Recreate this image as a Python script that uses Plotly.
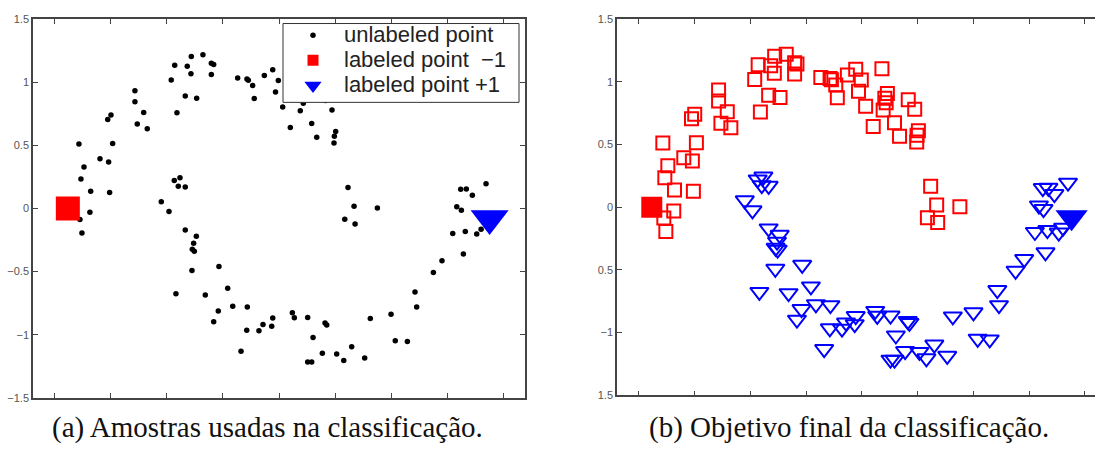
import plotly.graph_objects as go

# Two-moons sample: coordinates of every point and its final class
moon_neg_x = [-1.286, -1.268, -1.241, -1.181, -1.188, -1.277, -1.259, -1.098, -1.021, -1.012,
              -1.029, -1.000, -0.985, -0.786, -0.786, -0.765, -0.708, -0.676, -0.462, -0.431,
              -0.411, -0.337, -0.319, -0.283, -0.286, -0.235, -0.179, -0.104, -0.083, -0.104,
              0.131, 0.214, 0.226, 0.265, 0.279, 0.369, 0.444, 0.469, 0.494, 0.533,
              0.690, 0.717, 0.973, 0.601, 0.792, 0.837, 1.006, 0.994, 0.991, 1.116,
              1.170, 1.378, 1.087, 1.179, 0.679, 0.728, 0.705, 0.915]
moon_neg_y = [0.511, 0.234, 0.329, 0.137, -0.031, -0.087, -0.195, 0.393, 0.368, 0.126,
              0.704, 0.740, 0.514, 0.933, 0.846, 0.669, 0.761, 0.632, 1.018, 1.134,
              0.758, 0.892, 1.126, 1.203, 1.067, 0.874, 1.218, 1.151, 1.141, 1.062,
              1.033, 1.026, 1.016, 0.974, 0.871, 1.054, 1.099, 0.923, 1.014, 0.804,
              0.774, 0.833, 0.781, 0.642, 0.673, 0.565, 0.609, 0.573, 0.519, 0.167,
              0.017, 0.004, -0.085, -0.123, 1.103, 0.906, 0.868, 0.856]

moon_pos_x = [-0.435, -0.384, -0.399, -0.337, -0.551, -0.482, -0.337, -0.238, -0.262, -0.274,
              -0.256, -0.277, -0.036, -0.420, -0.158, 0.042, -0.042, 0.087, 0.217, -0.083,
              0.212, 0.321, 0.357, 0.435, 0.444, 0.161, 0.619, 0.637, 0.756, 0.804,
              0.911, 0.926, 1.149, 0.887, 1.015, 1.078, 1.265, 0.756, 0.792, 1.315,
              1.500, 1.538, 1.646, 1.714, 1.729, 1.878, 1.955, 2.146, 2.051, 2.163,
              2.265, 2.304, 2.087, 2.128, 2.122, 2.172, 2.226, 2.348]
moon_pos_y = [0.221, 0.244, 0.175, 0.170, 0.054, -0.025, -0.170, -0.221, -0.275, -0.324,
              -0.339, -0.491, -0.460, -0.676, -0.686, -0.632, -0.812, -0.774, -0.781, -0.897,
              -0.966, -0.969, -0.920, -0.933, -0.868, -1.131, -0.827, -0.866, -0.864, -1.023,
              -0.908, -0.923, -1.095, -1.147, -1.154, -1.205, -1.185, -1.216, -1.216, -0.871,
              -0.838, -1.049, -1.054, -0.661, -0.781, -0.507, -0.414, -0.360, -0.198, -0.183,
              -0.203, -0.164, 0.013, -0.015, 0.152, 0.154, 0.104, 0.195]

# The two labelled seeds
label_neg = (-1.385, 0.0)
label_pos = (2.38, -0.08)

legend_names = ["unlabeled point", "labeled point \u00a0\u22121", "labeled point +1"]

x_ticks = [-1.5, -1.0, -0.5, 0.0, 0.5, 1.0, 1.5, 2.0, 2.5]
y_ticks = [1.5, 1.0, 0.5, 0.0, -0.5, -1.0, -1.5]
y_text_a = ["1.5", "1", "0.5", "0", "\u22120.5", "\u22121", "\u22121.5"]
y_text_b = ["1.5", "1", "0.5", "0", "0.5", "\u22121", "1.5"]

RED = "#ff0000"
BLUE = "#0000ff"
AX = "#444444"
W, H = 1095, 450

all_x = moon_neg_x + moon_pos_x
all_y = moon_neg_y + moon_pos_y


def legend_label(s):
    return '<span style="font-size:22px">' + s + "</span>"


fig = go.Figure()

# (a) unlabeled samples plus the two seeds
fig.add_trace(go.Scatter(x=all_x, y=all_y, mode="markers", name=legend_label(legend_names[0]),
                         marker=dict(symbol="circle", size=5.5, color="black"),
                         xaxis="x", yaxis="y"))
fig.add_trace(go.Scatter(x=[label_neg[0]], y=[label_neg[1]], mode="markers", showlegend=False,
                         marker=dict(symbol="square", size=24, color=RED),
                         xaxis="x", yaxis="y"))
fig.add_trace(go.Scatter(x=[label_pos[0]], y=[label_pos[1]], mode="markers", showlegend=False,
                         marker=dict(symbol="triangle-down", size=33, color=BLUE),
                         xaxis="x", yaxis="y"))
# legend keys for the seeds, drawn at legend scale
fig.add_trace(go.Scatter(x=[None], y=[None], mode="markers", name=legend_label(legend_names[1]),
                         marker=dict(symbol="square", size=11, color=RED),
                         xaxis="x", yaxis="y"))
fig.add_trace(go.Scatter(x=[None], y=[None], mode="markers", name=legend_label(legend_names[2]),
                         marker=dict(symbol="triangle-down", size=15, color=BLUE),
                         xaxis="x", yaxis="y"))

# (b) final classification
fig.add_trace(go.Scatter(x=moon_neg_x, y=moon_neg_y, mode="markers", showlegend=False,
                         marker=dict(symbol="square-open", size=13, color=RED,
                                     line=dict(width=2, color=RED)),
                         xaxis="x2", yaxis="y2"))
fig.add_trace(go.Scatter(x=moon_pos_x, y=moon_pos_y, mode="markers", showlegend=False,
                         marker=dict(symbol="triangle-down-open", size=16, color=BLUE,
                                     line=dict(width=2, color=BLUE)),
                         xaxis="x2", yaxis="y2"))
fig.add_trace(go.Scatter(x=[label_neg[0]], y=[label_neg[1]], mode="markers", showlegend=False,
                         marker=dict(symbol="square", size=21, color=RED),
                         xaxis="x2", yaxis="y2"))
fig.add_trace(go.Scatter(x=[label_pos[0]], y=[label_pos[1]], mode="markers", showlegend=False,
                         marker=dict(symbol="triangle-down", size=28, color=BLUE),
                         xaxis="x2", yaxis="y2"))

tick_font = dict(family="Liberation Sans, Arial, sans-serif", size=11, color="#555555")

common_x = dict(tickmode="array", tickvals=x_ticks, showticklabels=False,
                ticks="inside", ticklen=5, tickcolor=AX, tickwidth=1,
                showline=True, linecolor=AX, linewidth=1.5,
                showgrid=False, zeroline=False)
common_y = dict(tickmode="array", tickvals=y_ticks,
                ticks="inside", ticklen=5, tickcolor=AX, tickwidth=1,
                showline=True, linecolor=AX, linewidth=1.5,
                showgrid=False, zeroline=False, tickfont=tick_font)

fig.update_layout(
    width=W, height=H,
    margin=dict(l=0, r=0, t=0, b=0),
    paper_bgcolor="white", plot_bgcolor="white",
    xaxis=dict(domain=[33 / W, 525 / W], range=[-1.696, 2.696],
               mirror="ticks", anchor="y", **common_x),
    yaxis=dict(domain=[(H - 402.5) / H, (H - 13.5) / H], range=[-1.5, 1.5],
               ticktext=y_text_a, mirror="ticks", anchor="x", **common_y),
    xaxis2=dict(domain=[617 / W, 1.0], range=[-1.697, 2.590],
                mirror="ticks", anchor="y2", **common_x),
    yaxis2=dict(domain=[(H - 400) / H, (H - 13.3) / H], range=[-1.5, 1.5],
                ticktext=y_text_b, mirror=False, anchor="x2", **common_y),
    legend=dict(x=282 / W, y=(H - 12) / H, xanchor="left", yanchor="top",
                bgcolor="rgba(0,0,0,0)", borderwidth=0,
                font=dict(family="Liberation Sans, Arial, sans-serif", size=17, color="#222222"),
                itemwidth=52, tracegroupgap=0),
    showlegend=True,
)

# legend frame: white box with a thin dark border over the left panel
fig.add_shape(type="rect", xref="paper", yref="paper",
              x0=283 / W, x1=519 / W, y0=(H - 99) / H, y1=(H - 18) / H,
              fillcolor="white", line=dict(color="#333333", width=1), layer="above")

caption_font = dict(family="Liberation Serif, Times New Roman, serif", size=29, color="#111111")
fig.add_annotation(text="(a) Amostras usadas na classificação.", xref="paper", yref="paper",
                   x=267.5 / W, y=(H - 433) / H, xanchor="center", yanchor="middle",
                   showarrow=False, font=caption_font)
fig.add_annotation(text="(b) Objetivo final da classificação.", xref="paper", yref="paper",
                   x=848.5 / W, y=(H - 433) / H, xanchor="center", yanchor="middle",
                   showarrow=False, font=caption_font)

fig.write_html("out.html")
